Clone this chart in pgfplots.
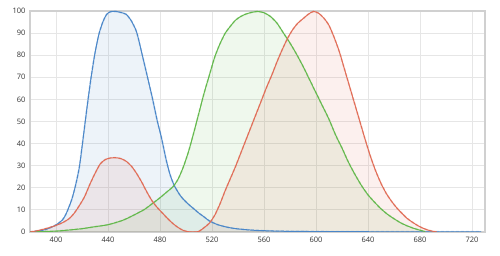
\documentclass[border=0pt]{standalone}
\usepackage{pgfplots}
\pgfplotsset{compat=1.18}
\usepackage{pgfplotstable}
\usepackage{fontspec}
\setmainfont{Open Sans}
\definecolor{cblue}{HTML}{4A86C8}
\definecolor{cgreen}{HTML}{62B84B}
\definecolor{cred}{HTML}{E06B55}
\definecolor{gridc}{HTML}{E6E6E6}
\definecolor{framec}{HTML}{D0D0D0}
\definecolor{tickc}{HTML}{333333}
\pgfplotstableread{
x y
380 0
390 0.8
395 1.8
400 3.2
405 5.5
408 8.5
412 14.5
415 21
418 29.5
421 43
424 57
427 70
430 81
433 89.5
436 95
439 98.5
442 99.7
446 99.8
450 99.3
454 98.5
458 95.5
462 90.5
466 81
470 71
474 61
478 50
481 43
485 32
488 25.5
491 21
495 17
498 14.8
502 12.5
506 10.5
510 8.5
514 6.8
518 5
524 3.4
530 2.4
536 1.7
545 1.1
555 0.7
570 0.4
580 0.3
600 0.2
650 0.1
727 0.1
}\blue
\pgfplotstableread{
x y
380 0
390 0.2
400 0.4
410 0.9
420 1.5
430 2.4
440 3.3
450 5
456 6.5
462 8.3
468 10.2
474 12.8
480 15.5
485 18
490 20.5
494 24
498 29.5
502 36.5
506 45
510 54
514 63
518 71
522 79
526 85
530 89.8
534 93
538 95.8
542 97.5
546 98.6
550 99.3
555 99.8
560 99.2
565 97.5
570 94.5
575 90
580 85.5
585 80.5
590 75
595 69
600 63
605 57
610 51
615 44
620 38
625 31.5
630 26
635 21
640 16.8
645 13.5
650 10.5
655 8
660 6
665 4.2
670 2.8
675 1.7
680 0.8
684 0.2
}\green
\pgfplotstableread{
x y
380 0
385 0.5
390 1.2
395 2
400 3
405 4.2
410 6
414 8.5
418 12
422 16
426 21.5
430 26.5
434 30.8
438 32.8
442 33.5
446 33.6
450 33.2
454 32
458 29.8
462 26.5
466 22.5
470 18
474 14
478 11
482 8.5
486 6
490 3.8
494 2
498 0.7
502 0.1
506 0
510 0.3
514 2
518 4
522 7.5
526 12.5
530 18.5
534 24
538 29.5
542 35.5
546 41.5
550 47.5
554 53.5
558 59.5
562 65.5
566 71
570 77
574 82.5
578 87.5
582 91.5
586 94.5
590 96.5
594 98.5
598 99.8
602 99
606 96.8
610 93.5
614 88
618 81.5
622 73.5
626 65.5
630 57.5
634 49.5
638 41.5
642 34
646 27.5
650 22
654 17.5
658 14
662 11
666 8.5
670 6.2
674 4.5
678 3
682 1.8
686 0.9
690 0.3
693 0
}\red
\begin{document}
\begin{tikzpicture}
\path[use as bounding box] (0,0) rectangle (500pt,256pt);
\begin{axis}[
  at={(30pt,24pt)}, anchor=south west,
  scale only axis, width=455pt, height=221pt,
  xmin=380, xmax=730, ymin=0, ymax=100,
  xtick={400,440,...,720}, ytick={0,10,...,100},
  grid=major, major grid style={draw=gridc, line width=0.9pt},
  axis line style={draw=framec, line width=1.6pt},
  major tick length=0pt,
  tick label style={font=\fontsize{7.5}{8}\selectfont, text=tickc},
  /pgf/number format/assume math mode=true,
  xticklabel style={yshift=-2pt},
  yticklabel style={xshift=-1pt},
  clip=true,
]
\addplot[draw=none, fill=cblue, fill opacity=0.1, smooth, tension=0.4] table[x=x,y=y]{\blue} \closedcycle;
\addplot[draw=none, fill=cgreen, fill opacity=0.1, smooth, tension=0.4] table[x=x,y=y]{\green} \closedcycle;
\addplot[draw=none, fill=cred, fill opacity=0.1, smooth, tension=0.4] table[x=x,y=y]{\red} \closedcycle;
\addplot[cblue, line width=1.7pt, opacity=0.35, dash pattern=on 3pt off 2pt, smooth, tension=0.4] table[x=x,y=y]{\blue};
\addplot[cgreen, line width=1.7pt, opacity=0.35, dash pattern=on 3pt off 2pt, smooth, tension=0.4] table[x=x,y=y]{\green};
\addplot[cred, line width=1.7pt, opacity=0.35, dash pattern=on 3pt off 2pt, smooth, tension=0.4] table[x=x,y=y]{\red};
\addplot[cblue, line width=1pt, smooth, tension=0.4] table[x=x,y=y]{\blue};
\addplot[cgreen, line width=1pt, smooth, tension=0.4] table[x=x,y=y]{\green};
\addplot[cred, line width=1pt, smooth, tension=0.4] table[x=x,y=y]{\red};
\end{axis}
\end{tikzpicture}
\end{document}
